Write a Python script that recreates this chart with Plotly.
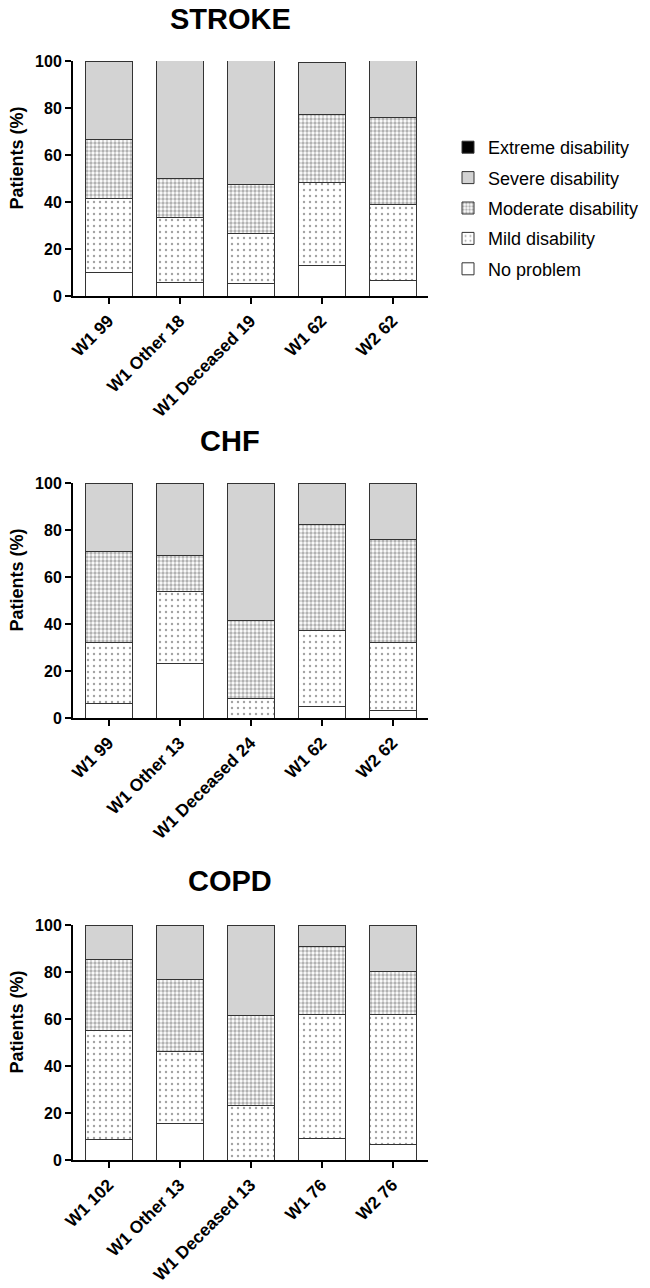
import plotly.graph_objects as go

# page body has an 8px margin; figure is sized so that it fits the 650x1288 window
PAGE_OFF = 8
W, H = 650 - 2 * PAGE_OFF, 1288 - 2 * PAGE_OFF

panel_titles = ["STROKE", "CHF", "COPD"]
categories = [
    ["W1 99", "W1 Other 18", "W1 Deceased 19", "W1 62", "W2 62"],
    ["W1 99", "W1 Other 13", "W1 Deceased 24", "W1 62", "W2 62"],
    ["W1 102", "W1 Other 13", "W1 Deceased 13", "W1 76", "W2 76"],
]
# segment heights (%) per panel
no_problem = [
    [10.1, 5.6, 5.3, 12.9, 6.5],
    [6.1, 23.1, 0.0, 4.8, 3.2],
    [8.8, 15.4, 0.0, 9.2, 6.6],
]
mild = [
    [31.3, 27.8, 21.1, 35.5, 32.3],
    [26.2, 30.7, 8.3, 32.3, 29.1],
    [46.1, 30.8, 23.1, 52.6, 55.2],
]
moderate = [
    [25.3, 16.7, 21.1, 29.0, 37.1],
    [38.4, 15.4, 33.4, 45.2, 43.5],
    [30.4, 30.7, 38.4, 29.0, 18.5],
]
severe = [
    [33.3, 50.0, 52.6, 22.0, 24.2],
    [29.3, 30.8, 58.3, 17.7, 24.2],
    [14.7, 23.1, 38.5, 9.2, 19.7],
]
extreme = [
    [0, 0, 0, 0, 0],
    [0, 0, 0, 0, 0],
    [0, 0, 0, 0, 0],
]
series_names = ["No problem", "Mild disability", "Moderate disability",
                "Severe disability", "Extreme disability"]
y_ticks = [0, 20, 40, 60, 80, 100]

FONT = "Liberation Sans, Arial, sans-serif"
LINE = dict(color="#333333", width=1)
styles = {
    "No problem": dict(color="white", line=LINE),
    "Mild disability": dict(color="white", line=LINE,
                            pattern=dict(shape=".", fgcolor="#444444", bgcolor="white",
                                         size=6, solidity=0.12)),
    "Moderate disability": dict(color="white", line=LINE,
                                pattern=dict(shape=".", fgcolor="#666666", bgcolor="white",
                                             size=4, solidity=0.55)),
    "Severe disability": dict(color="#d3d3d3", line=LINE),
    "Extreme disability": dict(color="black", line=LINE),
}


def px(xp):
    return (xp - PAGE_OFF) / W


def py(yp):
    return 1 - (yp - PAGE_OFF) / H


# window-pixel geometry of each panel (y of 0 and y of 100)
panel_px = [(296, 61), (718, 483), (1160, 925)]
title_px = [19, 441, 881]
x_left, x_right = 73, 428

fig = go.Figure()
for p in range(3):
    data = [no_problem[p], mild[p], moderate[p], severe[p], extreme[p]]
    xa = "x" if p == 0 else f"x{p+1}"
    ya = "y" if p == 0 else f"y{p+1}"
    for i, (name, vals) in enumerate(zip(series_names, data)):
        fig.add_trace(go.Bar(
            x=categories[p], y=vals, name=name, marker=styles[name],
            xaxis=xa, yaxis=ya, showlegend=(p == 0), legendgroup=name,
            legendrank=1000 - i,
        ))

layout = dict(
    width=W, height=H, barmode="stack", bargap=0.338,
    plot_bgcolor="white", paper_bgcolor="white",
    margin=dict(l=0, r=0, t=0, b=0, autoexpand=False),
    font=dict(family=FONT, color="black"),
    legend=dict(x=px(448), y=py(129), xanchor="left", yanchor="top",
                traceorder="grouped", font=dict(size=18, family=FONT),
                tracegroupgap=4, itemwidth=30),
    annotations=[],
)
for p in range(3):
    y0, y100 = panel_px[p]
    sfx = "" if p == 0 else str(p + 1)
    layout[f"xaxis{sfx}"] = dict(
        domain=[px(x_left), px(x_right)], anchor=f"y{sfx}", type="category",
        range=[-0.5, 4.5], showline=True, linecolor="black", linewidth=2,
        ticks="outside", ticklen=6, tickwidth=2, tickcolor="black",
        tickangle=-45, tickfont=dict(size=17.3, family=FONT, weight="bold"),
        showgrid=False, zeroline=False, automargin=False,
    )
    layout[f"yaxis{sfx}"] = dict(
        domain=[py(y0), py(y100)], anchor=f"x{sfx}",
        range=[0, 100], tickvals=y_ticks, showline=True, linecolor="black",
        linewidth=2, ticks="outside", ticklen=6, tickwidth=2, tickcolor="black",
        tickfont=dict(size=16, family=FONT, weight="bold"),
        showgrid=False, zeroline=False, automargin=False,
    )
    layout["annotations"].append(dict(
        text=panel_titles[p], x=px(230), y=py(title_px[p]), xref="paper", yref="paper",
        xanchor="center", yanchor="middle", showarrow=False,
        font=dict(size=29, family=FONT, weight="bold"),
    ))
    layout["annotations"].append(dict(
        text="Patients (%)", x=px(16), y=py((y0 + y100) / 2 - 20),
        xref="paper", yref="paper", xanchor="center", yanchor="middle",
        showarrow=False, textangle=-90,
        font=dict(size=18, family=FONT, weight="bold"),
    ))

fig.update_layout(**layout)
fig.write_html("out.html")
